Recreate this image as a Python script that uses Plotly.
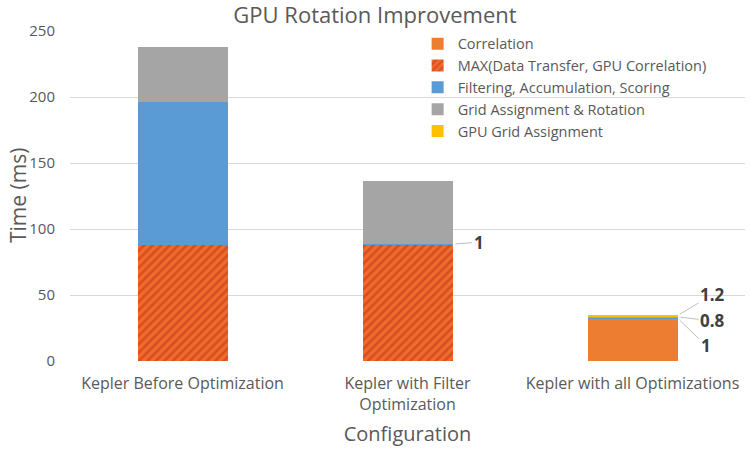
import plotly.graph_objects as go

categories = ["Kepler Before Optimization", "Kepler with Filter<br>Optimization", "Kepler with all Optimizations"]
correlation = [0, 0, 32]
max_transfer = [88, 88, 0]
filtering = [108, 1, 1]
grid_rotation = [42, 47, 0.8]
gpu_grid = [0, 0, 1.2]

series_names = ["Correlation", "MAX(Data Transfer, GPU Correlation)", "Filtering, Accumulation, Scoring",
                "Grid Assignment & Rotation", "GPU Grid Assignment"]

FONT = "Open Sans"
TXT = "#595959"
BW = 0.4
xs = list(range(len(categories)))

W, H = 750, 451
L, R, T, B = 70, 5, 31, 90

fig = go.Figure()
fig.add_bar(x=xs, y=correlation, name=series_names[0], marker=dict(color="#ED7D31", line=dict(width=0)), width=BW)
fig.add_bar(x=xs, y=max_transfer, name=series_names[1], width=BW,
            marker=dict(color="#F26A2C", line=dict(width=0),
                        pattern=dict(shape="/", fgcolor="#B5361A", size=6, solidity=0.45)))
fig.add_bar(x=xs, y=filtering, name=series_names[2], marker=dict(color="#5B9BD5", line=dict(width=0)), width=BW)
fig.add_bar(x=xs, y=grid_rotation, name=series_names[3], marker=dict(color="#A5A5A5", line=dict(width=0)), width=BW)
fig.add_bar(x=xs, y=gpu_grid, name=series_names[4], marker=dict(color="#FFC000", line=dict(width=0)), width=BW)


def seg_mid(i, series_before, val):
    base = sum(s[i] for s in series_before)
    return base + val / 2


ann = []
lbl_font = dict(family=FONT, size=17, color="#404040")
line_col = "#BFBFBF"
i = 1
ann.append(dict(x=i + BW / 2, y=seg_mid(i, [correlation, max_transfer], filtering[i]), xref="x", yref="y",
                text="<b>%g</b>" % filtering[i], showarrow=True, arrowhead=0, arrowcolor=line_col, arrowwidth=1,
                ax=26, ay=-2, standoff=3, font=lbl_font))
i = 2
ann.append(dict(x=i + BW / 2, y=seg_mid(i, [correlation, max_transfer], filtering[i]), xref="x", yref="y",
                text="<b>%g</b>" % filtering[i], showarrow=True, arrowhead=0, arrowcolor=line_col, arrowwidth=1,
                ax=28, ay=27, standoff=3, font=lbl_font))
ann.append(dict(x=i + BW / 2, y=seg_mid(i, [correlation, max_transfer, filtering], grid_rotation[i]), xref="x", yref="y",
                text="<b>%g</b>" % grid_rotation[i], showarrow=True, arrowhead=0, arrowcolor=line_col, arrowwidth=1,
                ax=35, ay=4, standoff=3, font=lbl_font))
ann.append(dict(x=i + BW / 2, y=seg_mid(i, [correlation, max_transfer, filtering, grid_rotation], gpu_grid[i]), xref="x", yref="y",
                text="<b>%g</b>" % gpu_grid[i], showarrow=True, arrowhead=0, arrowcolor=line_col, arrowwidth=1,
                ax=35, ay=-21, standoff=3, font=lbl_font))
# y-axis title
pw, ph = W - L - R, H - T - B
ann.append(dict(text="Time (ms)", xref="paper", yref="paper", x=(18 - L) / pw, y=(H - B - 195) / ph,
                xanchor="center", yanchor="middle", textangle=-90, showarrow=False,
                font=dict(size=21, color=TXT, family=FONT)))

fig.update_layout(
    barmode="stack",
    width=W, height=H,
    margin=dict(l=L, r=R, t=T, b=B, autoexpand=False),
    paper_bgcolor="white", plot_bgcolor="white",
    font=dict(family=FONT, color=TXT),
    title=dict(text="GPU Rotation Improvement", x=0.5, xanchor="center", xref="container",
               yref="container", y=1 - 15 / H, yanchor="middle",
               font=dict(size=22, color=TXT, family=FONT)),
    legend=dict(x=0.515, y=1.01, xanchor="left", yanchor="top", traceorder="normal",
                font=dict(size=14.5, color=TXT, family=FONT), bgcolor="rgba(255,255,255,0)",
                itemwidth=30, tracegroupgap=0),
    xaxis=dict(tickvals=xs, ticktext=categories, range=[-0.5, 2.5], showgrid=False, zeroline=False,
               showline=False, ticks="", tickfont=dict(size=16, color=TXT), ticklabelstandoff=11,
               title=dict(text="Configuration", font=dict(size=20, color=TXT), standoff=13)),
    yaxis=dict(range=[0, 250], dtick=50, gridcolor="#D9D9D9", gridwidth=1, zeroline=False,
               showline=False, ticks="", tickfont=dict(size=15, color=TXT), ticklabelstandoff=14),
    annotations=ann,
)

fig.write_html("out.html", config={"displayModeBar": False},
               post_script="document.body.style.margin='0';")
